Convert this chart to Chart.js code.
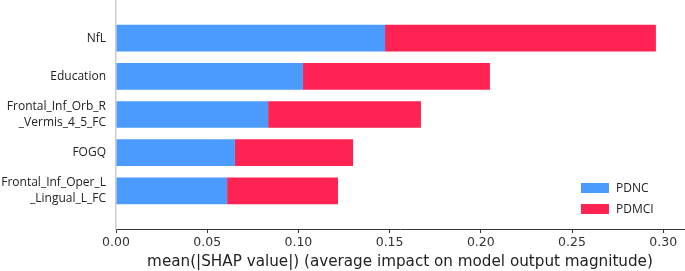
<!DOCTYPE html>
<html>
<head>
<meta charset="utf-8">
<script src="https://cdn.jsdelivr.net/npm/chart.js@4"></script>
<style>
    html, body { margin: 0; padding: 0; background: #fff; }
    #wrap { width: 685px; height: 271px; }
</style>
</head>
<body>
<div id="wrap"><canvas id="shap_Chart" width="685" height="271"></canvas></div>
<script>
// features, top to bottom
var features = [
    'NfL',
    'Education',
    ['Frontal_Inf_Orb_R', '_Vermis_4_5_FC'],
    'FOGQ',
    ['Frontal_Inf_Oper_L', '_Lingual_L_FC']
]
var pdncValues = [0.1475, 0.1025, 0.0834, 0.0652, 0.0609]
var pdmciValues = [0.1485, 0.1025, 0.0838, 0.0648, 0.0608]
var seriesNames = ['PDNC', 'PDMCI']
var seriesColors = ['#4b9bff', '#ff2353']
var xTicks = [0.00, 0.05, 0.10, 0.15, 0.20, 0.25, 0.30]

var ctx = document.getElementById('shap_Chart');

// empty slots above and below so the bars sit one unit away from the axes (like ylim(-1, n))
var labels = [''].concat(features, [''])
var padData = function (arr) {
    return [null].concat(arr, [null])
}

// legend drawn in the lower right corner of the plot area
const cornerLegend = {
    id: 'cornerLegend',
    afterDraw(chart) {
        var c = chart.ctx
        var area = chart.chartArea
        var x = area.right - 103
        var y = area.bottom - 46
        c.save()
        c.font = '12px "Open Sans"'
        c.textBaseline = 'middle'
        c.textAlign = 'left'
        chart.data.datasets.forEach(function (ds, i) {
            var rowY = y + i * 21
            c.fillStyle = ds.backgroundColor
            c.fillRect(x, rowY, 28, 10)
            c.fillStyle = '#222'
            c.fillText(ds.label, x + 35, rowY + 5.5)
        })
        c.restore()
    }
}

var myChart = new Chart(ctx, {
    type: 'bar',
    data: {
        labels: labels,
        datasets: [{
            label: seriesNames[0],
            data: padData(pdncValues),
            backgroundColor: seriesColors[0],
            borderWidth: 0
        }, {
            label: seriesNames[1],
            data: padData(pdmciValues),
            backgroundColor: seriesColors[1],
            borderWidth: 0
        }]
    },
    options: {
        indexAxis: 'y',
        responsive: false,
        animation: false,
        barPercentage: 0.7,
        categoryPercentage: 1.0,
        layout: {
            padding: { top: 0, right: 1, bottom: 0, left: 0 }
        },
        scales: {
            x: {
                stacked: true,
                min: 0,
                max: 0.3114,
                afterBuildTicks: function (scale) {
                    scale.ticks = xTicks.map(function (v) { return { value: v } })
                },
                afterFit: function (scale) {
                    scale.height = 42
                    scale.paddingLeft = 0
                    scale.paddingRight = 0
                },
                ticks: {
                    color: '#333',
                    padding: 2,
                    font: { family: 'DejaVu Sans', size: 12.5 },
                    callback: function (value) {
                        return Number(value).toFixed(2)
                    }
                },
                grid: {
                    drawOnChartArea: false,
                    drawTicks: true,
                    tickLength: 4,
                    color: '#333'
                },
                border: { display: true, color: '#333', width: 1 },
                title: {
                    display: true,
                    text: 'mean(|SHAP value|) (average impact on model output magnitude)',
                    color: '#222',
                    padding: { top: 0, bottom: 0 },
                    font: { family: 'DejaVu Sans', size: 15.2 }
                }
            },
            y: {
                stacked: true,
                offset: false,
                afterFit: function (scale) {
                    scale.width = 116
                    scale.paddingTop = 0
                    scale.paddingBottom = 0
                },
                ticks: {
                    color: '#222',
                    padding: 10,
                    autoSkip: false,
                    font: { family: 'Open Sans', size: 12, lineHeight: 1.3 }
                },
                grid: { display: false, drawTicks: false },
                border: { display: true, color: '#cccccc', width: 1.5 }
            }
        },
        plugins: {
            legend: { display: false },
            tooltip: { enabled: false }
        }
    },
    plugins: [cornerLegend]
});
</script>
</body>
</html>
